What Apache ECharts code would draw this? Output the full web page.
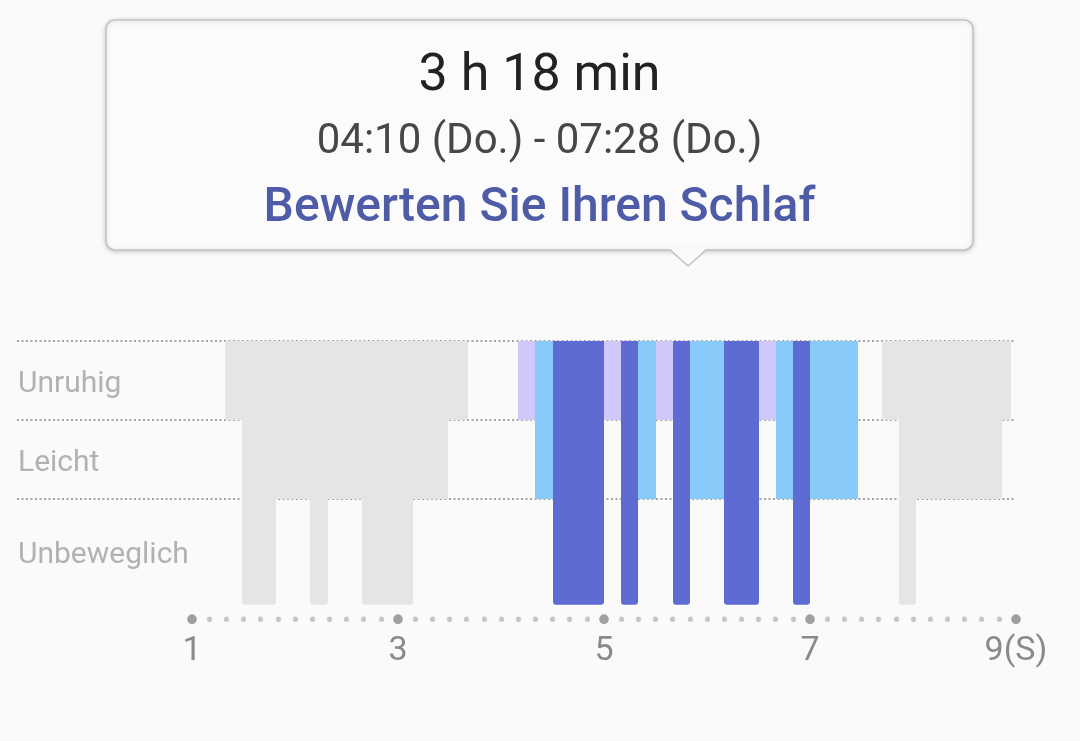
<!DOCTYPE html>
<html><head><meta charset="utf-8">
<script src="https://cdn.jsdelivr.net/npm/echarts@6/dist/echarts.min.js"></script>
<style>html,body{margin:0;padding:0;background:#fafafa;} #c{width:1080px;height:741px;}</style>
</head><body><div id="c"></div>
<script>
// ---- data ----
const stageNames = ['Unruhig', 'Leicht', 'Unbeweglich'];
const xTickValues = [1, 3, 5, 7, 9];
const xTickLabels = ['1', '3', '5', '7', '9(S)'];
const dayLabel = 'Do.';
const rateText = 'Bewerten Sie Ihren Schlaf';

// earlier sleep (grey)
const session1Times  = ['01:19', '01:29', '01:49', '02:09', '02:19', '02:39', '03:09', '03:29', '03:41'];
const session1Stages = ['Unruhig', 'Unbeweglich', 'Leicht', 'Unbeweglich', 'Leicht', 'Unbeweglich', 'Leicht', 'Unruhig'];
// selected sleep (coloured)
const selectedTimes  = ['04:10', '04:20', '04:30', '05:00', '05:10', '05:20', '05:30', '05:40', '05:50', '06:10', '06:30', '06:40', '06:50', '07:00', '07:28'];
const selectedStages = ['Unruhig', 'Leicht', 'Unbeweglich', 'Unruhig', 'Unbeweglich', 'Leicht', 'Unruhig', 'Unbeweglich', 'Leicht', 'Unbeweglich', 'Unruhig', 'Leicht', 'Unbeweglich', 'Leicht'];
// later sleep (grey)
const session3Times  = ['07:42', '07:52', '08:02', '08:52', '08:57'];
const session3Stages = ['Unruhig', 'Unbeweglich', 'Leicht', 'Unruhig'];

// ---- helpers ----
function toHours(t) { const p = t.split(':'); return +p[0] + (+p[1]) / 60; }
function buildSegments(times, stages, sel) {
  return stages.map((s, i) => ({ value: [toHours(times[i]), toHours(times[i + 1]), stageNames.indexOf(s), sel] }));
}
const segments = [].concat(
  buildSegments(session1Times, session1Stages, 0),
  buildSegments(selectedTimes, selectedStages, 1),
  buildSegments(session3Times, session3Stages, 0)
);

const TOP = 3;
const STAGE_BOTTOM = [2, 1, -0.34];
const SEL_COLORS = ['#d0c8f8', '#88cbfa', '#5e6bd2'];
const GRAY = '#e5e5e7';

function renderItem(params, api) {
  const start = api.value(0), end = api.value(1), stage = api.value(2), sel = api.value(3);
  const p0 = api.coord([start, TOP]);
  const p1 = api.coord([end, STAGE_BOTTOM[stage]]);
  const x0 = Math.round(p0[0]), x1 = Math.round(p1[0]);
  return {
    type: 'rect',
    shape: { x: x0, y: p0[1], width: x1 - x0, height: p1[1] - p0[1], r: stage === 2 ? [0, 0, 3, 3] : 0 },
    style: { fill: sel ? SEL_COLORS[stage] : GRAY }
  };
}

const chart = echarts.init(document.getElementById('c'), null, { renderer: 'canvas' });
const FONT = 'Roboto, "Noto Sans", sans-serif';
const dotted = { color: '#a6a6a6', width: 2, type: [2, 2.5] };
const labelPos = [2.45, 1.45, 0.28];

chart.setOption({
  backgroundColor: '#fafafa',
  animation: false,
  grid: [
    { left: 17, right: 64, top: 341, height: 158 },
    { left: 192, right: 64, top: 341, bottom: 122 }
  ],
  xAxis: [
    { gridIndex: 0, type: 'value', show: false, min: 0, max: 1 },
    {
      gridIndex: 1, type: 'value', min: 1, max: 9, interval: 1, position: 'bottom',
      axisLine: { show: false, onZero: false },
      axisTick: { show: true, length: 0.5, lineStyle: { color: '#c6c6c6', width: 5, cap: 'round' } },
      minorTick: { show: true, splitNumber: 6, length: 0.5, lineStyle: { color: '#c6c6c6', width: 5, cap: 'round' } },
      axisLabel: { show: false },
      splitLine: { show: false }
    },
    {
      gridIndex: 1, type: 'value', min: 1, max: 9, position: 'bottom',
      axisLine: { show: false, onZero: false },
      axisTick: { show: true, customValues: xTickValues, length: 0.5, lineStyle: { color: '#a0a0a0', width: 9.5, cap: 'round' } },
      axisLabel: {
        show: true, customValues: xTickValues, margin: 15,
        color: '#8a8a8a', fontSize: 34, fontFamily: FONT,
        formatter: v => xTickLabels[xTickValues.indexOf(v)]
      },
      splitLine: { show: false }
    }
  ],
  yAxis: [
    {
      gridIndex: 0, type: 'value', min: 1, max: 3, interval: 1,
      axisLine: { show: false }, axisTick: { show: false }, axisLabel: { show: false },
      splitLine: { show: true, lineStyle: dotted }
    },
    {
      gridIndex: 1, type: 'value', min: -0.52, max: 3,
      axisLine: { show: false }, axisTick: { show: false }, splitLine: { show: false },
      axisLabel: {
        show: true, customValues: labelPos, margin: 174, align: 'left',
        color: '#b2b2b2', fontSize: 30, fontFamily: FONT,
        formatter: v => stageNames[labelPos.indexOf(v)]
      }
    }
  ],
  series: [{
    type: 'custom', name: 'Schlaf', xAxisIndex: 1, yAxisIndex: 1,
    renderItem: renderItem, data: segments, encode: { x: [0, 1], y: 2 }
  }]
});

// ---- callout (selected sleep summary) ----
const sStart = toHours(selectedTimes[0]), sEnd = toHours(selectedTimes[selectedTimes.length - 1]);
const durMin = Math.round((sEnd - sStart) * 60);
const durText = Math.floor(durMin / 60) + ' h ' + (durMin % 60) + ' min';
const rangeText = selectedTimes[0] + ' (' + dayLabel + ') - ' + selectedTimes[selectedTimes.length - 1] + ' (' + dayLabel + ')';
const px = chart.convertToPixel({ xAxisIndex: 1 }, (sStart + sEnd) / 2);

const L = 106, R = 973, T = 20, B = 250, cx = (L + R) / 2, hw = 18, ph = 16;
chart.setOption({
  graphic: [
    { type: 'rect', shape: { x: L, y: T, width: R - L, height: B - T, r: 9 },
      style: { fill: '#fbfbfb', stroke: '#c2c2c2', lineWidth: 1.5, shadowBlur: 5, shadowColor: 'rgba(0,0,0,0.18)', shadowOffsetY: 1 }, z: 10 },
    { type: 'polygon', shape: { points: [[px - hw, B - 1.5], [px + hw, B - 1.5], [px, B + ph]] },
      style: { fill: '#fbfbfb' }, z: 11 },
    { type: 'polyline', shape: { points: [[px - hw, B], [px, B + ph], [px + hw, B]] },
      style: { fill: null, stroke: '#c2c2c2', lineWidth: 1.5 }, z: 11 },
    { type: 'text', z: 12, style: { text: durText, x: cx, y: 77, textAlign: 'center', textVerticalAlign: 'middle', fontSize: 52, fontFamily: FONT, fill: '#222222' } },
    { type: 'text', z: 12, style: { text: rangeText, x: cx, y: 142, textAlign: 'center', textVerticalAlign: 'middle', fontSize: 42, fontFamily: FONT, fill: '#474747' } },
    { type: 'text', z: 12, style: { text: rateText, x: cx, y: 209, textAlign: 'center', textVerticalAlign: 'middle', fontSize: 48, fontWeight: 500, fontFamily: FONT, fill: '#4e5ba6' } }
  ]
});
</script>
</body></html>
